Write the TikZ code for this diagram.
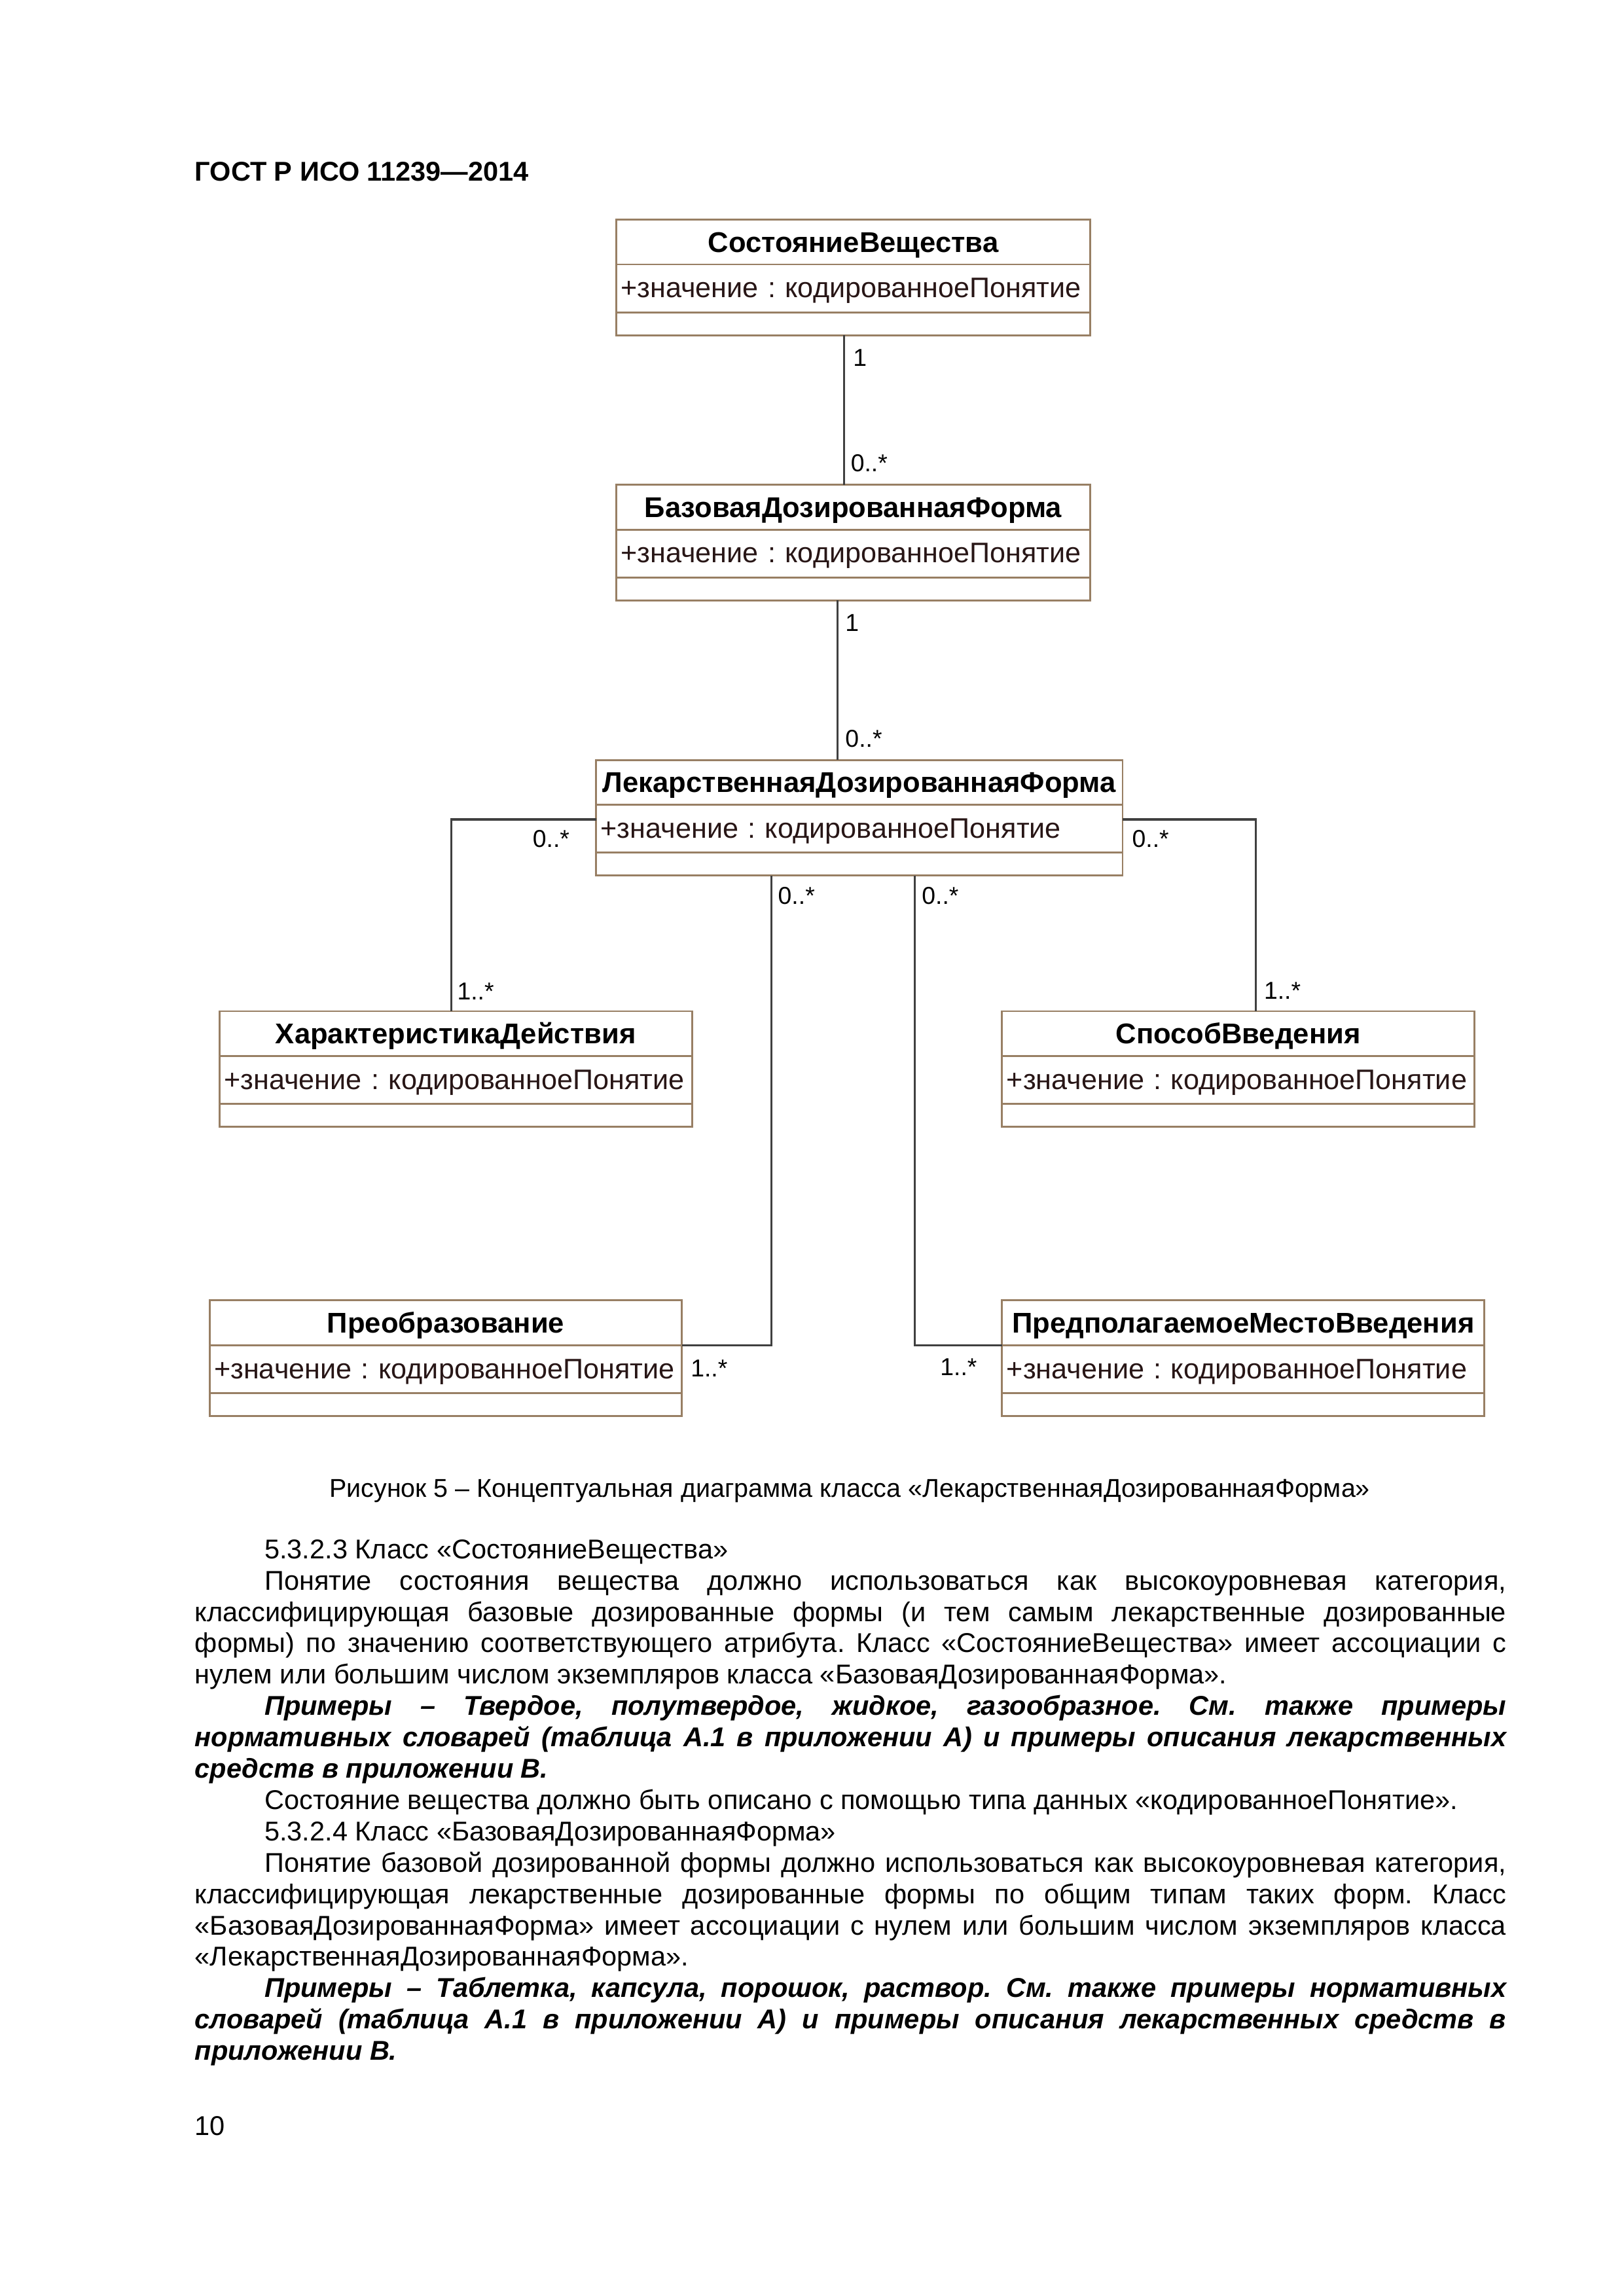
\documentclass[tikz,border=0pt]{standalone}
\usepackage{fontspec}
\setmainfont{Liberation Sans}
\usetikzlibrary{positioning}
\frenchspacing
\definecolor{umlbraun}{RGB}{152,127,100}
\definecolor{liniengrau}{RGB}{64,64,64}
\definecolor{attrfarbe}{RGB}{40,22,22}
\newcommand{\absatz}{\par\noindent\hspace*{9mm}}
\tikzstyle{klname} = [draw=umlbraun, line width=0.7pt, rectangle, outer sep=0pt, inner sep=0pt, minimum height=5.8mm, text height=2.65mm, text depth=0mm, font=\fontsize{10.5}{12}\selectfont\bfseries]
\tikzstyle{klattr} = [draw=umlbraun, line width=0.7pt, rectangle, outer sep=0pt, inner sep=0pt, minimum height=6.2mm, text height=2.4mm, text depth=0mm, align=left, text=attrfarbe, font=\fontsize{10.4}{12}\selectfont]
\tikzstyle{klops} = [draw=umlbraun, line width=0.7pt, rectangle, outer sep=0pt, inner sep=0pt, minimum height=2.95mm]
\tikzstyle{mult} = [inner sep=0pt, font=\fontsize{9}{11}\selectfont]
\tikzstyle{assoc} = [draw=liniengrau, line width=0.8pt]
% class box: name, top left corner, width, title
\newcommand{\umlklasse}[4]{%
	\node[klname, minimum width=#3, anchor=north west] (#1-name) at #2 {#4};
	\node[klattr, text width=#3, below=0pt of #1-name] (#1-attr) {\hspace*{0.6mm}+значение : кодированноеПонятие};
	\node[klops, minimum width=#3, below=0pt of #1-attr] (#1-ops) {};
}

\begin{document}
\begin{tikzpicture}[x=1mm, y=-1mm]
	\useasboundingbox[fill=white] (0,0) rectangle (210,297);
	\node[anchor=west, inner sep=0pt, font=\fontsize{10}{12}\selectfont\bfseries] (kopf) at (25.15,22.2) {ГОСТ Р ИСО 11239—2014};

	% classes
	\umlklasse{sost}{(79.7,28.4)}{61.3mm}{СостояниеВещества}
	\umlklasse{baz}{(79.7,62.7)}{61.3mm}{БазоваяДозированнаяФорма}
	\umlklasse{lek}{(77.1,98.3)}{68.1mm}{ЛекарственнаяДозированнаяФорма}
	\umlklasse{char}{(28.4,130.8)}{61.1mm}{ХарактеристикаДействия}
	\umlklasse{spos}{(129.6,130.8)}{61.1mm}{СпособВведения}
	\umlklasse{preo}{(27.1,168.2)}{61.1mm}{Преобразование}
	\umlklasse{pred}{(129.6,168.2)}{62.4mm}{ПредполагаемоеМестоВведения}

	% associations
	\draw[assoc] ([xshift=-1.15mm]sost-ops.south) -- ([xshift=-1.15mm]sost-ops.south |- baz-name.north)
		node[mult, at start, anchor=north west, xshift=1mm, yshift=-1.7mm] {1}
		node[mult, at end, anchor=south west, xshift=0.7mm, yshift=1.5mm] {0..*};
	\draw[assoc] ([xshift=-2.05mm]baz-ops.south) -- ([xshift=-2.05mm]baz-ops.south |- lek-name.north)
		node[mult, at start, anchor=north west, xshift=0.9mm, yshift=-1.7mm] {1}
		node[mult, at end, anchor=south west, xshift=0.9mm, yshift=1.5mm] {0..*};
	\draw[assoc] ([yshift=1.2mm]lek-attr.west) -| ([xshift=-0.55mm]char-name.north)
		node[mult, at start, anchor=south east, xshift=-3.3mm, yshift=-3.8mm] {0..*}
		node[mult, at end, anchor=south west, xshift=0.6mm, yshift=1.3mm] {1..*};
	\draw[assoc] ([yshift=1.2mm]lek-attr.east) -| ([xshift=2.3mm]spos-name.north)
		node[mult, at start, anchor=south west, xshift=1.1mm, yshift=-3.8mm] {0..*}
		node[mult, at end, anchor=south west, xshift=0.9mm, yshift=1.4mm] {1..*};
	\draw[assoc] ([xshift=-11.4mm]lek-ops.south) |- (preo-name.south east)
		node[mult, at start, anchor=north west, xshift=0.75mm, yshift=-1.4mm] {0..*}
		node[mult, at end, anchor=north west, xshift=1mm, yshift=-1.8mm] {1..*};
	\draw[assoc] ([xshift=7.15mm]lek-ops.south) |- (pred-name.south west)
		node[mult, at start, anchor=north west, xshift=0.8mm, yshift=-1.4mm] {0..*}
		node[mult, at end, anchor=north east, xshift=-3.1mm, yshift=-1.6mm] {1..*};

	\node[anchor=base, inner sep=0pt, font=\fontsize{9.5}{12}\selectfont] (unterschrift) at (109.9,193.7) {Рисунок 5 – Концептуальная диаграмма класса «ЛекарственнаяДозированнаяФорма»};

	\node[anchor=base west, inner sep=0pt, text width=169.6mm, align=justify, font=\fontsize{10}{11.54}\selectfont] (fliesstext) at (25.15,201.6) {%
		\hspace*{9mm}5.3.2.3 Класс «СостояниеВещества»
		\absatz Понятие состояния вещества должно использоваться как высокоуровневая категория,\linebreak
		классифицирующая базовые дозированные формы (и тем самым лекарственные дозированные\linebreak
		формы) по значению соответствующего атрибута. Класс «СостояниеВещества» имеет ассоциации с\linebreak
		нулем или большим числом экземпляров класса «БазоваяДозированнаяФорма».
		\absatz{\bfseries\itshape Примеры – Твердое, полутвердое, жидкое, газообразное. См. также примеры\linebreak
		нормативных словарей (таблица А.1 в приложении А) и примеры описания лекарственных\linebreak
		средств в приложении В.}
		\absatz Состояние вещества должно быть описано с помощью типа данных «кодированноеПонятие».
		\absatz 5.3.2.4 Класс «БазоваяДозированнаяФорма»
		\absatz Понятие базовой дозированной формы должно использоваться как высокоуровневая категория,\linebreak
		классифицирующая лекарственные дозированные формы по общим типам таких форм. Класс\linebreak
		«БазоваяДозированнаяФорма» имеет ассоциации с нулем или большим числом экземпляров класса\linebreak
		«ЛекарственнаяДозированнаяФорма».
		\absatz{\bfseries\itshape Примеры – Таблетка, капсула, порошок, раствор. См. также примеры нормативных\linebreak
		словарей (таблица А.1 в приложении А) и примеры описания лекарственных средств в\linebreak
		приложении В.}\par};

	\node[anchor=base west, inner sep=0pt, font=\fontsize{10}{12}\selectfont] (seite) at (25.15,276.2) {10};
\end{tikzpicture}
\end{document}
